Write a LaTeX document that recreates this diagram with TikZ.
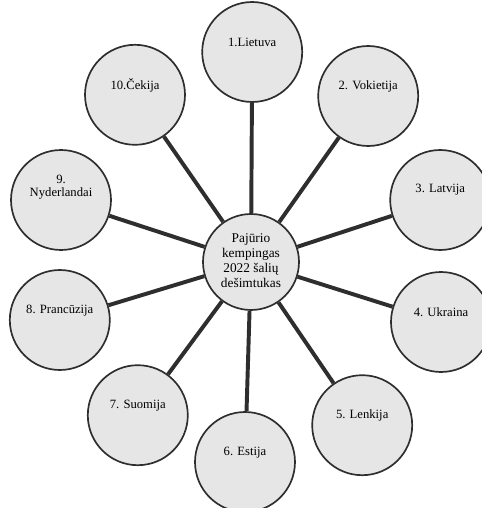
\documentclass[tikz,border=0pt]{standalone}
\usepackage{fontspec}
\setmainfont{Liberation Serif}
\usepackage{tikz}
\usetikzlibrary{shapes}
\usetikzlibrary{positioning}
\definecolor{fond}{HTML}{E6E6E6}
\definecolor{trait}{HTML}{2E2E2E}
\tikzstyle{centre}=[
        circle,
        draw=trait,
        line width=1.2pt,
        fill=fond,
        minimum size=2.4cm,
        align=center,
        inner sep=0pt,
        font=\fontsize{9.5}{10.8}\selectfont
]
\tikzstyle{pays}=[
        circle,
        draw=trait,
        line width=1.2pt,
        fill=fond,
        minimum size=2.5cm,
        inner sep=0pt
]
\tikzstyle{nom}=[align=center,yshift=7pt,font=\fontsize{9}{9.5}\selectfont]
\tikzstyle{rayon}=[trait,line width=2.8pt]

\begin{document}
\begin{tikzpicture}
\useasboundingbox (-6.275,-6.15) rectangle (5.775,6.55);
\node[centre] (pajurio) at (0,0) {\raisebox{4pt}{\begin{tabular}{@{}c@{}}Pajūrio\\kempingas\\2022 šalių\\dešimtukas\end{tabular}}};
\node[pays,label={[nom]center:1.Lietuva}] (lietuva) at (0.03,5.25) {};
\node[pays,label={[nom]center:2. Vokietija}] (vokietija) at (2.93,4.15) {};
\node[pays,label={[nom]center:3. Latvija}] (latvija) at (4.73,1.55) {};
\node[pays,label={[nom]center:4. Ukraina}] (ukraina) at (4.75,-1.5) {};
\node[pays,label={[nom]center:5. Lenkija}] (lenkija) at (2.78,-4.08) {};
\node[pays,label={[nom]center:6. Estija}] (estija) at (-0.15,-5.0) {};
\node[pays,label={[nom]center:7. Suomija}] (suomija) at (-2.83,-3.83) {};
\node[pays,label={[nom]center:8. Prancūzija}] (prancuzija) at (-4.78,-1.45) {};
\node[pays,label={[nom,yshift=2pt]center:9.\\Nyderlandai}] (nyderlandai) at (-4.75,1.55) {};
\node[pays,label={[nom]center:10.Čekija}] (cekija) at (-2.9,4.18) {};
%Placementdesrayons
\foreach \p in {lietuva,vokietija,latvija,ukraina,lenkija,estija,suomija,prancuzija,nyderlandai,cekija}
  \draw[rayon] (pajurio) -- (\p);
\end{tikzpicture}
\end{document}
